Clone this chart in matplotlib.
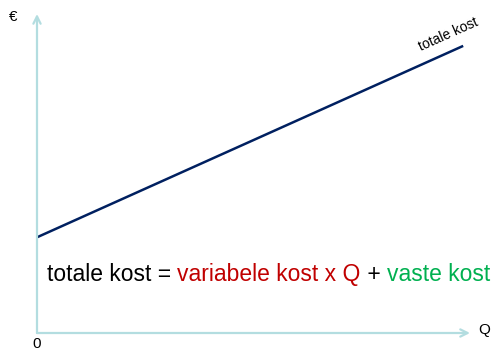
import matplotlib
matplotlib.use("Agg")
import matplotlib.pyplot as plt

plt.rcParams['font.family'] = ['Liberation Sans', 'DejaVu Sans']

# totale kost = variabele kost x Q + vaste kost
q = [0, 100]
vaste_kost = 30
variabele_kost = 0.6
totale_kost = [vaste_kost + variabele_kost * x for x in q]

formule = [("totale kost = ", "black"),
           ("variabele kost x Q", "#c00000"),
           (" + ", "black"),
           ("vaste kost", "#00b050")]

as_kleur = "#b3dde0"

fig = plt.figure(figsize=(5.04, 3.54), dpi=100)
ax = fig.add_axes([37 / 504, 21 / 354, 433 / 504, 319 / 354])
ax.set_xlim(0, 101.6)
ax.set_ylim(0, 100)
ax.axis("off")

# assen met pijlen
ax.annotate("", xy=(101.6, 0), xytext=(0, 0),
            arrowprops=dict(arrowstyle="->", color=as_kleur, lw=1.6,
                            shrinkA=0, shrinkB=0, mutation_scale=13))
ax.annotate("", xy=(0, 100), xytext=(0, 0),
            arrowprops=dict(arrowstyle="->", color=as_kleur, lw=1.6,
                            shrinkA=0, shrinkB=0, mutation_scale=13))

ax.plot(q, totale_kost, color="#002060", lw=1.8, solid_capstyle="butt")

ax.text(-5.5, 99, "€", fontsize=11, ha="center", va="center")
ax.text(0, -3.5, "0", fontsize=11, ha="center", va="center")
ax.text(103.5, 1, "Q", fontsize=11, ha="left", va="center")
ax.text(96.5, 93.5, "totale kost", fontsize=10, ha="center", va="center",
        rotation=24, rotation_mode="anchor")

# formule in kleuren
t = ax.text(2.3, 16.3, formule[0][0], fontsize=16.5, color=formule[0][1],
            ha="left", va="baseline")
for deel, kleur in formule[1:]:
    t = ax.annotate(deel, xy=(1, 0), xycoords=t, fontsize=16.5, color=kleur,
                    ha="left", va="bottom")

fig.savefig("out.png", dpi=100)
